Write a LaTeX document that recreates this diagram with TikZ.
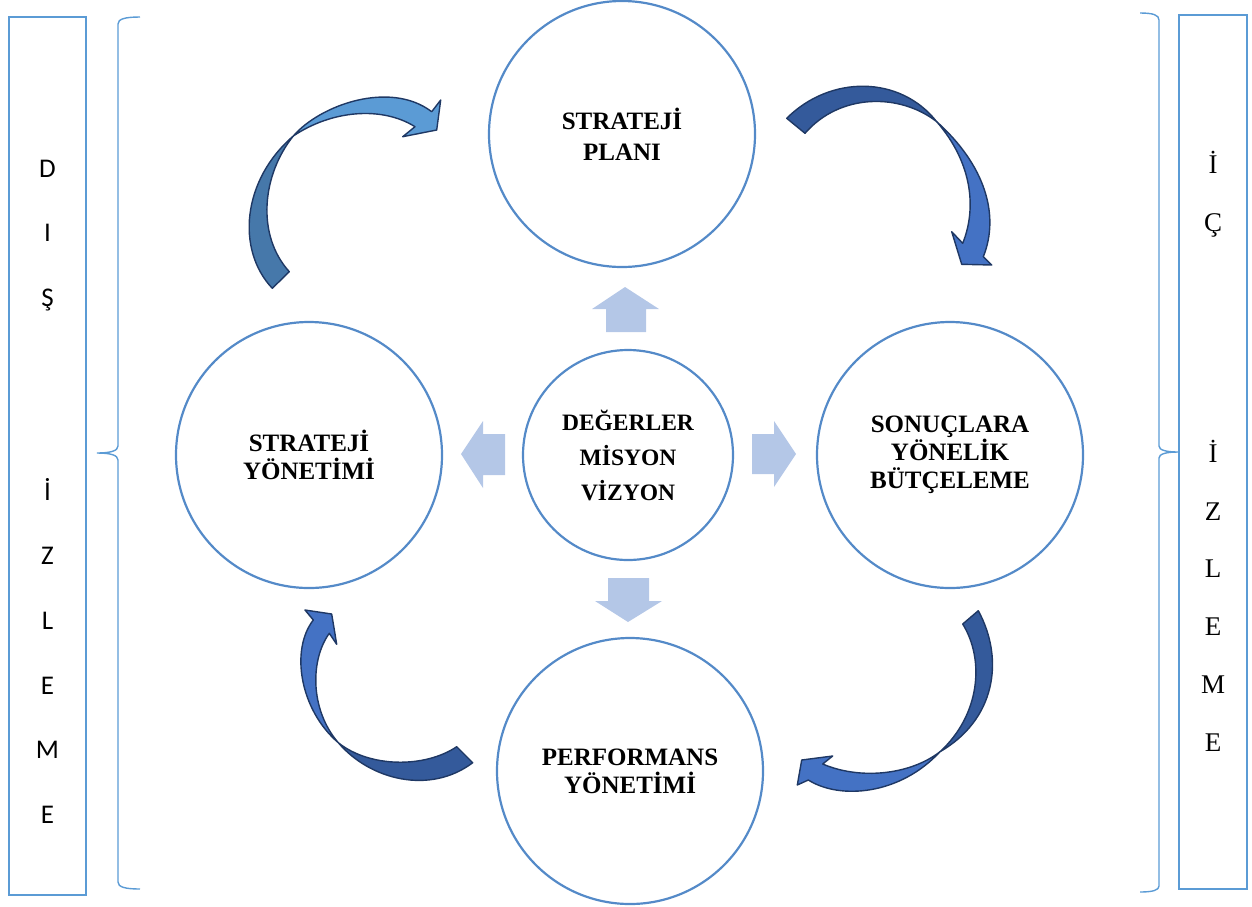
\documentclass[tikz,border=0pt]{standalone}
\usepackage{fontspec}
\setmainfont{Liberation Serif}
\newfontfamily\calibfont{Carlito}
\definecolor{circ}{RGB}{84,138,200}
\definecolor{boxc}{RGB}{91,155,213}
\definecolor{lightarr}{RGB}{180,199,231}
\definecolor{edgec}{RGB}{31,56,100}
\definecolor{darkA}{RGB}{70,120,170}
\definecolor{lightA}{RGB}{91,155,213}
\definecolor{darkB}{RGB}{52,90,155}
\definecolor{lightB}{RGB}{68,114,196}
\begin{document}
\begin{tikzpicture}[x=1pt,y=-1pt,
  bigc/.style={circle,draw=circ,line width=2.2pt,minimum size=266pt,inner sep=0pt,align=center},
  lbl/.style={font=\fontsize{25}{28}\selectfont\bfseries},
  sideL/.style={anchor=base,inner sep=0pt,font=\calibfont\fontsize{27}{27}\selectfont},
  sideR/.style={anchor=base,inner sep=0pt,font=\fontsize{27}{27}\selectfont},
  framebox/.style={draw=boxc,line width=2.6pt},
  bracec/.style={draw=boxc,line width=1.4pt},
  blockarr/.style={fill=lightarr,draw=none},
  carr/.style={draw=edgec,line width=1.4pt,line join=round}]
\useasboundingbox (0,0) rectangle (1252,906);

% side frames
\draw[framebox] (9,17) rectangle (86,895);
\draw[framebox] (1179,15) rectangle (1247,889);

% braces
\draw[bracec] (140,17) .. controls (125,17) and (118,19) .. (118,24) -- (118,446)
  .. controls (118,451) and (110,453) .. (97,453)
  .. controls (110,453) and (118,455) .. (118,460) -- (118,882)
  .. controls (118,887) and (125,889) .. (140,889);
\draw[bracec] (1140,13) .. controls (1153,13) and (1159,15) .. (1159,20) -- (1159,446)
  .. controls (1159,450) and (1166,452) .. (1178,452)
  .. controls (1166,452) and (1159,454) .. (1159,458) -- (1159,886)
  .. controls (1159,890) and (1153,892) .. (1140,892);

% left letters
\foreach \t/\k in {D/0,I/1,Ş/2,İ/5,Z/6,L/7,E/8,M/9,E/10}{
  \node[sideL] (dl\k) at (47.5,177.3+64.6*\k) {\t};
}
% right letters
\foreach \t/\k in {İ/0,Ç/1,İ/5,Z/6,L/7,E/8,M/9,E/10}{
  \node[sideR] (ic\k) at (1213,173.3+57.8*\k) {\t};
}

% circles
\node[bigc,font=\fontsize{25}{31}\selectfont\bfseries] (plan) at (622,134) {STRATEJİ\\PLANI};
\node[bigc,lbl] (yon) at (309,455) {STRATEJİ\\YÖNETİMİ};
\node[bigc,lbl] (butce) at (950,455) {SONUÇLARA\\YÖNELİK\\BÜTÇELEME};
\node[bigc,lbl] (perf) at (630,771) {PERFORMANS\\YÖNETİMİ};
\node[bigc,minimum size=210pt,font=\fontsize{23.5}{35}\selectfont\bfseries] (deg) at (628,455) {DEĞERLER\\MİSYON\\VİZYON};

% light block arrows
\fill[blockarr] (606,332) -- (606,309) -- (592,309) -- (625,287) -- (659,309) -- (646,309) -- (646,332) -- cycle;
\fill[blockarr] (505,434) -- (483,434) -- (483,421) -- (461,454) -- (483,488) -- (483,475) -- (505,475) -- cycle;
\fill[blockarr] (752,434) -- (774,434) -- (774,421) -- (796,454) -- (774,487) -- (774,474) -- (752,474) -- cycle;
\fill[blockarr] (608,578) -- (649,578) -- (649,601) -- (662,601) -- (628,622) -- (595,601) -- (608,601) -- cycle;

% curved arrow A (top-left)
\filldraw[carr,fill=darkA] (272.3,288.3) .. controls (236,250) and (242,180) .. (293.3,136)
  .. controls (262,175) and (256,235) .. (289.3,271.7) -- cycle;
\filldraw[carr,fill=lightA] (293.3,136) .. controls (320,105) and (390,80) .. (431.7,111.7)
  -- (440.7,100) -- (436.7,130) -- (402.7,136.7) -- (415,126.7)
  .. controls (382,106) and (332,110) .. (293.3,136) -- cycle;

% curved arrow B (top-right)
\filldraw[carr,fill=darkB] (786.7,118.3) .. controls (830,75) and (900,75) .. (936.7,121.7)
  .. controls (900,93) and (840,93) .. (805,133.3) -- cycle;
\filldraw[carr,fill=lightB] (936.7,121.7) .. controls (985,165) and (1000,215) .. (983.3,256.7)
  -- (991.7,265) -- (961.7,264.3) -- (951.7,231.7) -- (962.7,243.3)
  .. controls (978,205) and (970,160) .. (936.7,121.7) -- cycle;

% curved arrow C (bottom-left)
\filldraw[carr,fill=lightB] (338.3,742.7) .. controls (300,710) and (290,650) .. (313.3,620)
  -- (305,610) -- (331.7,614) -- (336.7,644.3) -- (329.3,633.3)
  .. controls (310,660) and (310,710) .. (338.3,742.7) -- cycle;
\filldraw[carr,fill=darkB] (338.3,742.7) .. controls (370,780) and (430,795) .. (472.7,762.7)
  -- (456.7,746.7) .. controls (425,768) and (370,768) .. (338.3,742.7) -- cycle;

% curved arrow D (bottom-right)
\filldraw[carr,fill=darkB] (978.3,610.7) .. controls (1005,660) and (995,720) .. (940,751.7)
  .. controls (980,715) and (985,660) .. (962.7,624) -- cycle;
\filldraw[carr,fill=lightB] (940,751.7) .. controls (900,795) and (840,800) .. (808.3,780)
  -- (797.3,785) -- (801.7,760) -- (832.7,756) -- (822.7,764)
  .. controls (860,780) and (910,775) .. (940,751.7) -- cycle;
\end{tikzpicture}
\end{document}
